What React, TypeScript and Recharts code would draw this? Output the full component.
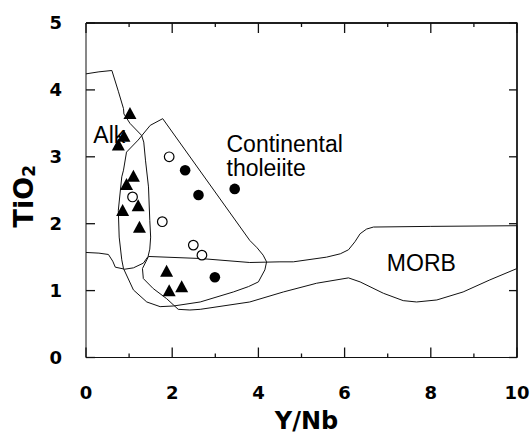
import { CartesianGrid, ReferenceDot, Scatter, ScatterChart, XAxis, YAxis } from "recharts";

const xTicks = [0, 1, 2, 3, 4, 5, 6, 7, 8, 9, 10];
const xLabelTicks = [0, 2, 4, 6, 8, 10];
const yTicks = [0, 1, 2, 3, 4, 5];

// samples
const triangles = [
  { x: 1.02, y: 3.64 },
  { x: 0.88, y: 3.3 },
  { x: 0.75, y: 3.17 },
  { x: 1.1, y: 2.7 },
  { x: 0.94, y: 2.58 },
  { x: 1.21, y: 2.26 },
  { x: 0.85, y: 2.19 },
  { x: 1.24, y: 1.94 },
  { x: 1.87, y: 1.28 },
  { x: 1.93, y: 0.99 },
  { x: 2.22, y: 1.05 },
];
const openCircles = [
  { x: 1.08, y: 2.4 },
  { x: 1.93, y: 3.0 },
  { x: 1.77, y: 2.03 },
  { x: 2.49, y: 1.68 },
  { x: 2.69, y: 1.53 },
];
const filledCircles = [
  { x: 2.3, y: 2.8 },
  { x: 2.61, y: 2.43 },
  { x: 3.45, y: 2.52 },
  { x: 2.99, y: 1.2 },
];

// field outlines
const alkField = [
  { x: 0, y: 4.24 }, { x: 0.3, y: 4.27 }, { x: 0.6, y: 4.29 }, { x: 0.75, y: 3.98 },
  { x: 0.87, y: 3.72 }, { x: 0.88, y: 3.64 }, { x: 1.02, y: 3.5 }, { x: 1.29, y: 3.32 },
  { x: 1.34, y: 3.22 }, { x: 1.38, y: 2.95 }, { x: 1.45, y: 2.55 }, { x: 1.48, y: 2.05 },
  { x: 1.5, y: 1.8 }, { x: 1.48, y: 1.62 }, { x: 1.44, y: 1.51 }, { x: 1.33, y: 1.41 },
  { x: 1.1, y: 1.34 }, { x: 0.9, y: 1.32 }, { x: 0.68, y: 1.35 }, { x: 0.62, y: 1.44 },
  { x: 0.52, y: 1.54 }, { x: 0.3, y: 1.56 }, { x: 0, y: 1.57 },
];
const tholeiiteField = [
  { x: 1.78, y: 3.57 }, { x: 3.8, y: 1.75 }, { x: 3.97, y: 1.64 }, { x: 4.11, y: 1.53 },
  { x: 4.19, y: 1.43 }, { x: 4.15, y: 1.31 }, { x: 4.0, y: 1.13 }, { x: 3.77, y: 1.06 },
  { x: 3.42, y: 0.98 }, { x: 2.65, y: 0.83 }, { x: 2.03, y: 0.77 }, { x: 1.72, y: 0.76 },
  { x: 1.41, y: 0.83 }, { x: 1.1, y: 1.01 }, { x: 0.87, y: 1.33 }, { x: 0.83, y: 1.46 },
  { x: 0.77, y: 1.8 }, { x: 0.75, y: 2.2 }, { x: 0.83, y: 2.7 }, { x: 0.87, y: 2.8 },
  { x: 0.94, y: 3.07 }, { x: 1.21, y: 3.25 }, { x: 1.49, y: 3.47 }, { x: 1.78, y: 3.57 },
];
const morbField = [
  { x: 1.45, y: 1.51 }, { x: 2.65, y: 1.48 }, { x: 3.8, y: 1.42 }, { x: 4.5, y: 1.43 },
  { x: 4.81, y: 1.43 }, { x: 5.58, y: 1.5 }, { x: 5.9, y: 1.55 }, { x: 6.09, y: 1.61 },
  { x: 6.24, y: 1.73 }, { x: 6.36, y: 1.85 }, { x: 6.51, y: 1.92 }, { x: 6.67, y: 1.95 },
  { x: 8, y: 1.96 }, { x: 10, y: 1.97 }, { x: 10, y: 1.33 }, { x: 9.37, y: 1.16 },
  { x: 8.75, y: 0.98 }, { x: 8.14, y: 0.86 }, { x: 7.67, y: 0.83 }, { x: 7.36, y: 0.85 },
  { x: 6.9, y: 0.96 }, { x: 6.36, y: 1.13 }, { x: 6.09, y: 1.19 }, { x: 5.35, y: 1.11 },
  { x: 4.58, y: 0.98 }, { x: 3.8, y: 0.83 }, { x: 2.65, y: 0.72 }, { x: 2.41, y: 0.71 },
  { x: 2.14, y: 0.72 }, { x: 1.87, y: 0.88 }, { x: 1.56, y: 1.03 }, { x: 1.33, y: 1.18 },
  { x: 1.31, y: 1.33 }, { x: 1.45, y: 1.51 },
];

// box top and right side, and the inward tick positions on all four sides
const frameTopRight = [
  { x: 0, y: 5 },
  { x: 10, y: 5 },
  { x: 10, y: 0 },
];
const bottomTicks = xTicks.map((t) => ({ x: t, y: 0, major: t % 2 === 0 }));
const topTicks = xTicks.map((t) => ({ x: t, y: 5, major: t % 2 === 0 }));
const leftTicks = yTicks.map((t) => ({ x: 0, y: t }));
const rightTicks = yTicks.map((t) => ({ x: 10, y: t }));

const FONT = "'Liberation Sans', Arial, Helvetica, sans-serif";
const AXIS_FONT = "'DejaVu Sans', Verdana, sans-serif";
const INK = "#111";
const tickStyle = { fill: "#000", fontSize: 18, fontWeight: "bold", fontFamily: AXIS_FONT };

const topEdge = ({ offset }: any) => [offset.top];
const rightEdge = ({ offset }: any) => [offset.left + offset.width];

const BottomMark = (p: any) => (
  <path d={`M${p.cx},${p.cy}V${p.cy - (p.payload.major ? 10 : 4)}`} stroke={INK} strokeWidth={1.3} fill="none" />
);
const TopMark = (p: any) => (
  <path d={`M${p.cx},${p.cy}V${p.cy + (p.payload.major ? 10 : 4)}`} stroke={INK} strokeWidth={1.3} fill="none" />
);
const LeftMark = (p: any) => (
  <path d={`M${p.cx},${p.cy}H${p.cx + 9}`} stroke={INK} strokeWidth={1.3} fill="none" />
);
const RightMark = (p: any) => (
  <path d={`M${p.cx},${p.cy}H${p.cx - 8}`} stroke={INK} strokeWidth={1.3} fill="none" />
);

const Triangle = ({ cx, cy }: any) => (
  <polygon points={`${cx},${cy - 7} ${cx - 6.5},${cy + 5} ${cx + 6.5},${cy + 5}`} fill="#000" />
);
const OpenDot = ({ cx, cy }: any) => (
  <circle cx={cx} cy={cy} r={4.8} fill="#fff" stroke="#000" strokeWidth={1.2} />
);
const FilledDot = ({ cx, cy }: any) => <circle cx={cx} cy={cy} r={5.3} fill="#000" />;
const NoMark = () => <g />;

const fieldLabel = (lines: string[]) => (p: any) => (
  <text x={p.cx} y={p.cy} fontSize={23} fontFamily={FONT} fill="#000">
    {lines.map((t, i) => (
      <tspan key={t} x={p.cx} dy={i === 0 ? 0 : 23.5}>
        {t}
      </tspan>
    ))}
  </text>
);
const alkLabel = fieldLabel(["Alk"]);
const tholeiiteLabel = fieldLabel(["Continental", "tholeiite"]);
const morbLabel = fieldLabel(["MORB"]);

// axis titles, anchored on a point inside the plot and shifted out to the margins
const xTitle = (p: any) => (
  <text x={p.cx + 5} y={p.cy + 104.5} textAnchor="middle" fontSize={24} fontWeight="bold" fontFamily={AXIS_FONT} fill="#000">
    Y/Nb
  </text>
);
const yTitle = (p: any) => {
  const x = p.cx - 74.5;
  const y = p.cy + 6;
  return (
    <text
      x={x}
      y={y}
      transform={`rotate(-90, ${x}, ${y})`}
      textAnchor="middle"
      fontSize={27}
      fontWeight="bold"
      fontFamily={AXIS_FONT}
      fill="#000"
    >
      TiO
      <tspan fontSize={17} dy={2}>2</tspan>
    </text>
  );
};

export default function App() {
  return (
    <div style={{ position: "absolute", left: 0, top: 0, width: 532, height: 435, background: "#fff" }}>
      <ScatterChart width={532} height={435} margin={{ top: 23, right: 15, bottom: 0, left: 0 }}>
        <CartesianGrid
          stroke={INK}
          strokeWidth={1.3}
          horizontalCoordinatesGenerator={topEdge}
          verticalCoordinatesGenerator={rightEdge}
        />
        <XAxis
          type="number"
          dataKey="x"
          domain={[0, 10]}
          ticks={xLabelTicks}
          height={77.5}
          stroke={INK}
          tickSize={0}
          tickMargin={29}
          tick={tickStyle}
        />
        <YAxis
          type="number"
          dataKey="y"
          domain={[0, 5]}
          ticks={yTicks}
          width={86}
          stroke={INK}
          tickSize={0}
          tickMargin={24}
          tick={tickStyle}
        />
        <Scatter data={frameTopRight} line={{ stroke: INK, strokeWidth: 1.3 }} shape={<NoMark />} fill="none" isAnimationActive={false} />
        <Scatter data={bottomTicks} shape={BottomMark} isAnimationActive={false} />
        <Scatter data={topTicks} shape={TopMark} isAnimationActive={false} />
        <Scatter data={leftTicks} shape={LeftMark} isAnimationActive={false} />
        <Scatter data={rightTicks} shape={RightMark} isAnimationActive={false} />
        <Scatter data={alkField} line={{ stroke: INK, strokeWidth: 1 }} shape={<NoMark />} fill="none" isAnimationActive={false} />
        <Scatter data={tholeiiteField} line={{ stroke: INK, strokeWidth: 1 }} shape={<NoMark />} fill="none" isAnimationActive={false} />
        <Scatter data={morbField} line={{ stroke: INK, strokeWidth: 1 }} shape={<NoMark />} fill="none" isAnimationActive={false} />
        <Scatter data={triangles} shape={<Triangle />} isAnimationActive={false} />
        <Scatter data={openCircles} shape={<OpenDot />} isAnimationActive={false} />
        <Scatter data={filledCircles} shape={<FilledDot />} isAnimationActive={false} />
        <ReferenceDot x={0.17} y={3.2} r={0} shape={alkLabel} />
        <ReferenceDot x={3.26} y={3.07} r={0} shape={tholeiiteLabel} />
        <ReferenceDot x={6.98} y={1.3} r={0} shape={morbLabel} />
        <ReferenceDot x={5} y={0.5} r={0} shape={xTitle} />
        <ReferenceDot x={0.5} y={2.5} r={0} shape={yTitle} />
      </ScatterChart>
    </div>
  );
}
